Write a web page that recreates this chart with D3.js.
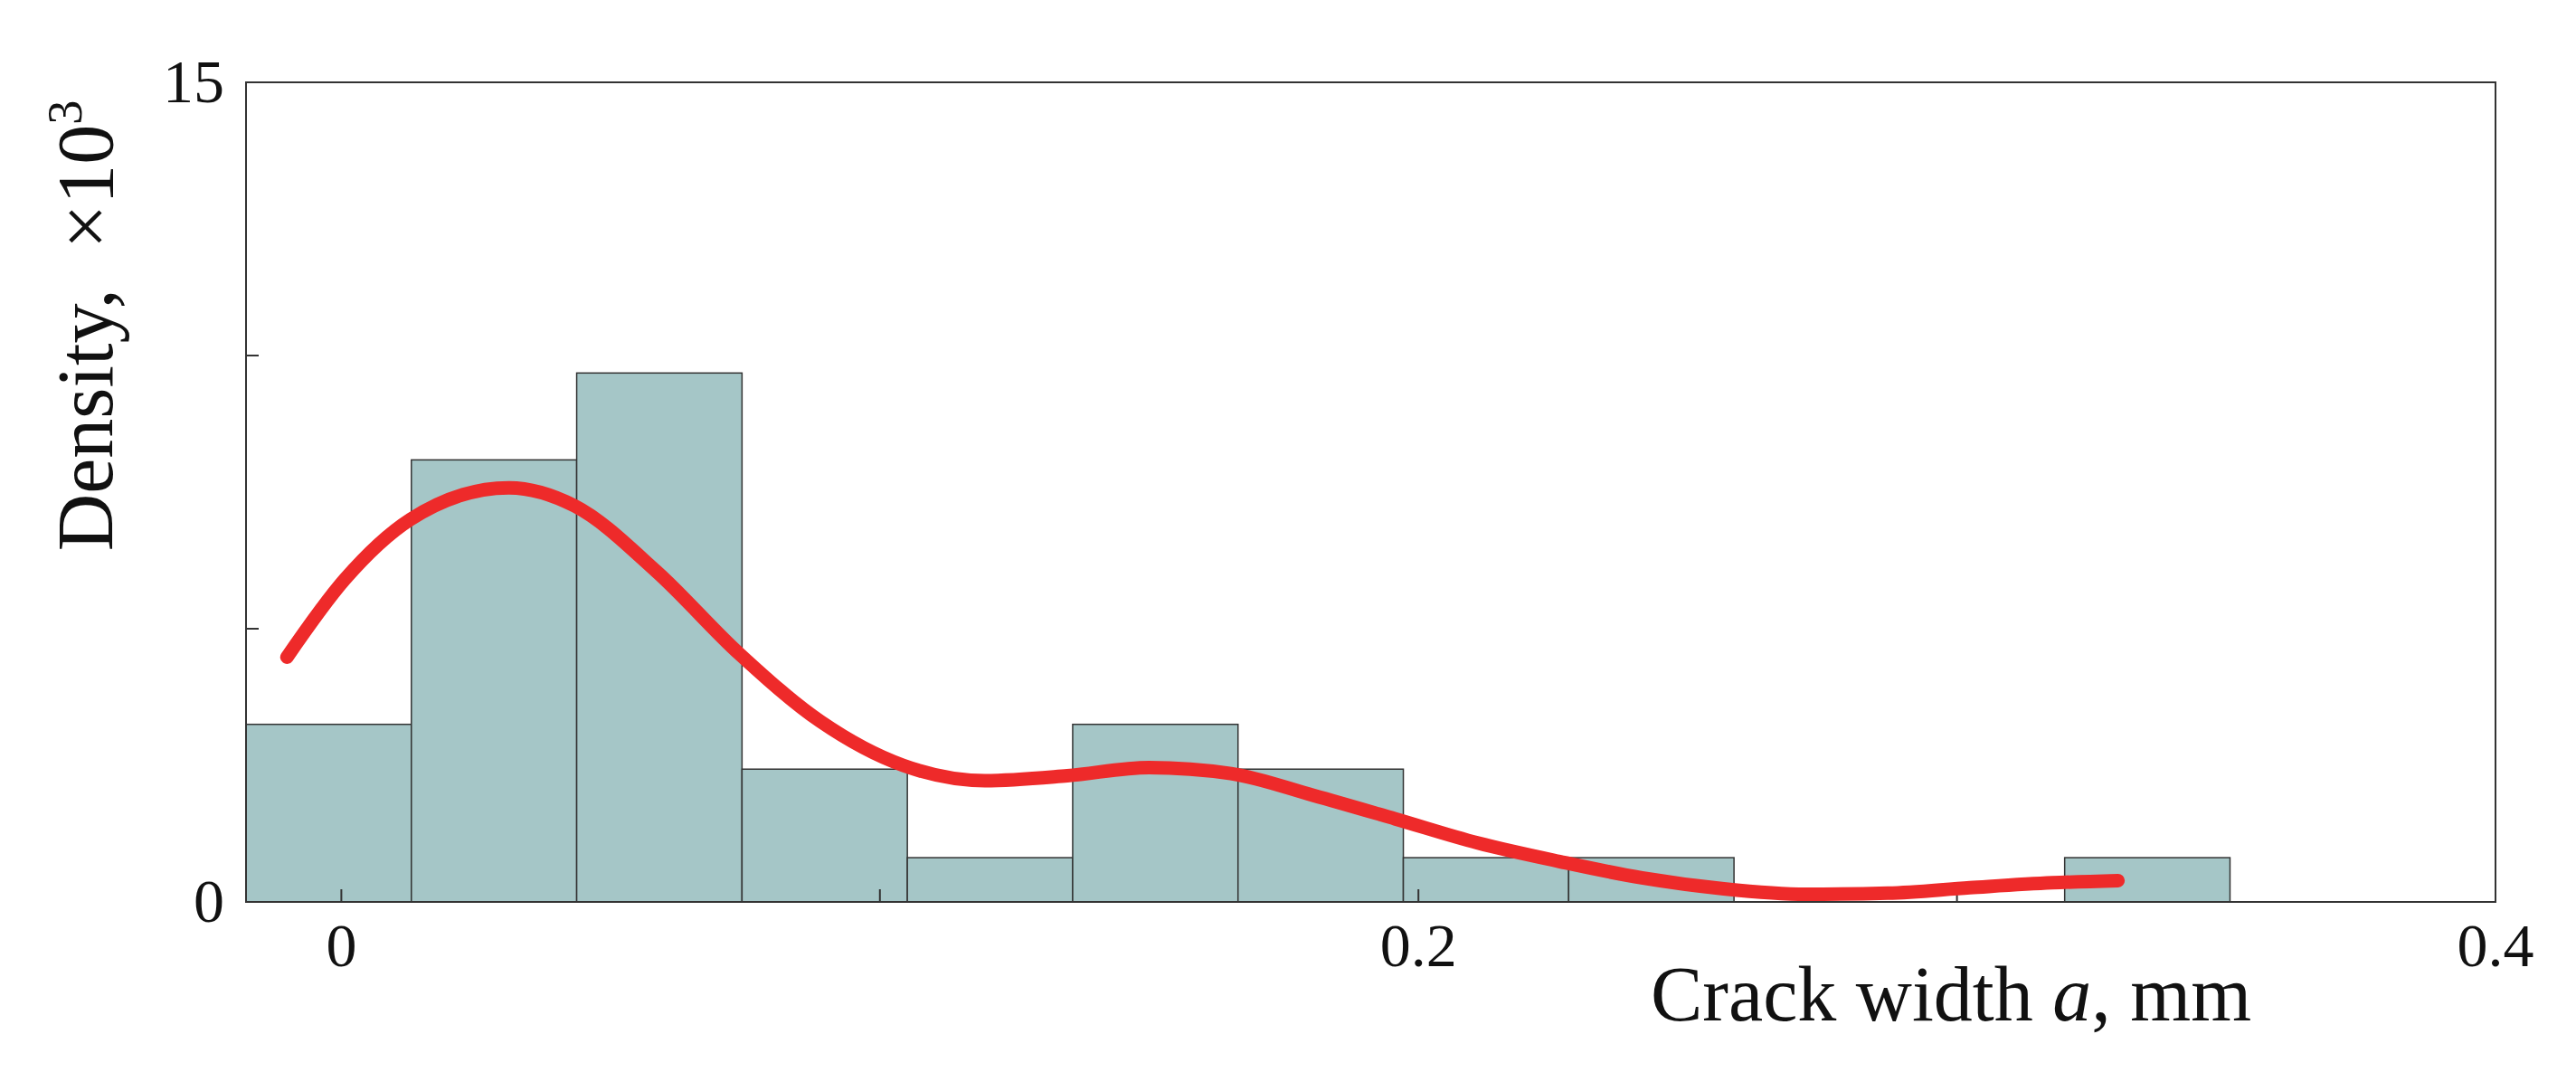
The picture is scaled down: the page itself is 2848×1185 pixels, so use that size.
<!DOCTYPE html>
<html><head><meta charset="utf-8">
<script src="https://cdn.jsdelivr.net/npm/d3@7"></script>
<style>body{margin:0;background:#fff}text{font-family:"Liberation Serif","DejaVu Serif",serif;fill:#111}</style>
</head><body><svg id="c" width="2848" height="1185"></svg>
<script>
const binWidth = 0.0307;
const binStart = -0.0177;
const binHeights = [3.25, 8.09, 9.68, 2.43, 0.81, 3.25, 2.43, 0.81, 0.81, 0, 0, 0.81];
const kdeX = [-0.0101,0.0006,0.0128,0.0311,0.0433,0.0585,0.0738,0.0890,0.1043,0.1195,0.1348,0.1500,0.1652,0.1805,0.1957,0.2110,0.2262,0.2415,0.2567,0.2720,0.2872,0.3024,0.3177,0.3299];
const kdeY = [4.48,5.90,7.00,7.58,7.25,6.05,4.55,3.30,2.50,2.22,2.31,2.46,2.35,1.95,1.52,1.08,0.74,0.44,0.24,0.14,0.16,0.26,0.35,0.39];
const xTicks = [0, 0.1, 0.2, 0.3, 0.4];
const xLabels = [0, 0.2, 0.4];
const yTicks = [0, 5, 10, 15];
const yLabels = [0, 15];

const svg = d3.select("#c");
const L=272,R=2759,T=91,B=997;
const x = d3.scaleLinear().domain([-0.0177,0.4]).range([L,R]);
const y = d3.scaleLinear().domain([0,15]).range([B,T]);

svg.selectAll("rect.bar").data(binHeights).join("rect")
  .attr("x",(d,i)=>x(binStart+i*binWidth)).attr("width",(d,i)=>x(binStart+(i+1)*binWidth)-x(binStart+i*binWidth))
  .attr("y",d=>y(d)).attr("height",d=>B-y(d))
  .attr("fill",d=>d>0?"#a5c6c7":"none").attr("stroke",d=>d>0?"#333":"none").attr("stroke-width",1.5);

svg.append("rect").attr("x",L).attr("y",T).attr("width",R-L).attr("height",B-T).attr("fill","none").attr("stroke","#333").attr("stroke-width",2);

svg.selectAll("line.xt").data(xTicks).join("line").attr("x1",d=>x(d)).attr("x2",d=>x(d)).attr("y1",B).attr("y2",B-14).attr("stroke","#333").attr("stroke-width",2);
svg.selectAll("line.yt").data(yTicks).join("line").attr("y1",d=>y(d)).attr("y2",d=>y(d)).attr("x1",L).attr("x2",L+14).attr("stroke","#333").attr("stroke-width",2);

svg.selectAll("text.xl").data(xLabels).join("text").attr("x",d=>x(d)).attr("y",1068).attr("text-anchor","middle").attr("font-size",68).text(d=>d===0?"0":d);
svg.selectAll("text.yl").data(yLabels).join("text").attr("x",248).attr("y",d=>y(d)+22).attr("text-anchor","end").attr("font-size",68).text(d=>d);

const line = d3.line().x(d=>x(d[0])).y(d=>y(d[1])).curve(d3.curveMonotoneX);
svg.append("path").attr("d",line(kdeX.map((v,i)=>[v,kdeY[i]]))).attr("fill","none").attr("stroke","#ee2a2a").attr("stroke-width",15).attr("stroke-linecap","round");

const yl = svg.append("text").attr("transform","translate(124,360) rotate(-90)").attr("text-anchor","middle").attr("font-size",88);
yl.append("tspan").text("Density,\u00a0\u00a0×10");
yl.append("tspan").text("3").attr("font-size",54).attr("dy",-34);

const xl = svg.append("text").attr("x",1825).attr("y",1128).attr("font-size",86);
xl.append("tspan").text("Crack width ");
xl.append("tspan").text("a").attr("font-style","italic");
xl.append("tspan").text(", mm");
</script></body></html>
